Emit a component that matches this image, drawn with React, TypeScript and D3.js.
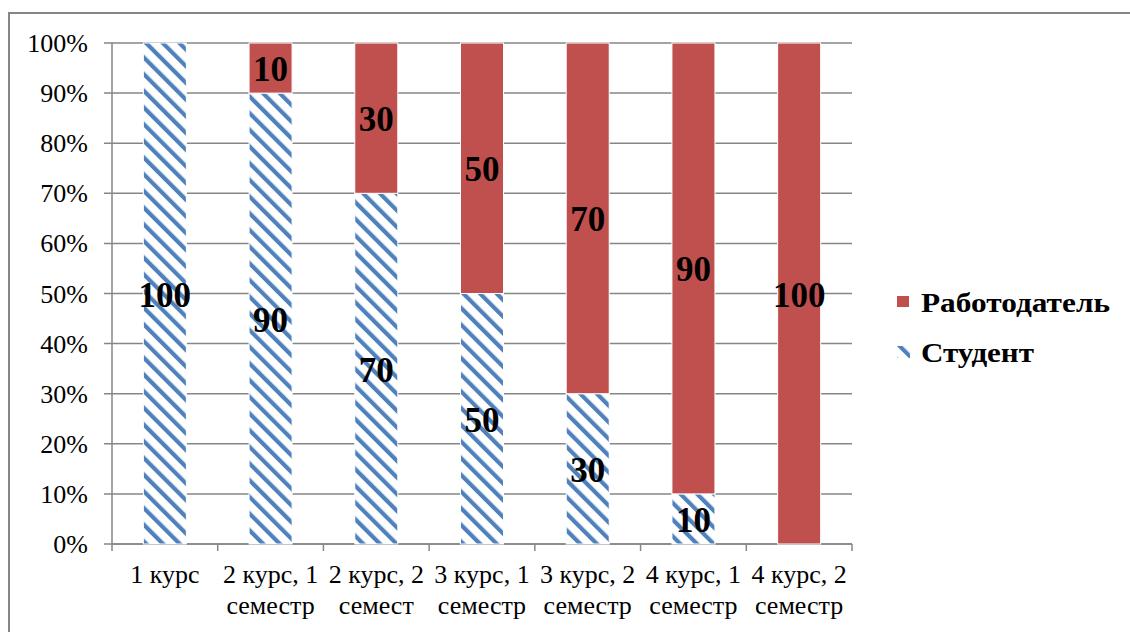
import React from "react";
import * as d3 from "d3";

// Share of responsibility per study stage (percent)
const categories = [
  "1 курс",
  "2 курс, 1\nсеместр",
  "2 курс, 2\nсемест",
  "3 курс, 1\nсеместр",
  "3 курс, 2\nсеместр",
  "4 курс, 1\nсеместр",
  "4 курс, 2\nсеместр",
];
const studentValues = [100, 90, 70, 50, 30, 10, 0];
const employerValues = [0, 10, 30, 50, 70, 90, 100];
const yTicks = [0, 10, 20, 30, 40, 50, 60, 70, 80, 90, 100];
const seriesNames = ["Работодатель", "Студент"];

const W = 1130;
const H = 632;
const plot = { left: 112, right: 852, top: 43, bottom: 544 };
const FONT = "Liberation Serif, Times New Roman, Times, serif";
const RED = "#C0504D";
const BLUE = "#4F81BD";
const GRID = "#868686";

export default function App() {
  const x = d3
    .scaleBand<string>()
    .domain(categories)
    .range([plot.left, plot.right])
    .paddingInner(0.593)
    .paddingOuter(0.593 / 2);
  const y = d3.scaleLinear().domain([0, 100]).range([plot.bottom, plot.top]);
  const step = x.step();
  const bw = x.bandwidth();

  const boundaries = d3.range(categories.length + 1).map((i) => plot.left + i * step);

  return (
    <svg
      width={W}
      height={H}
      style={{ position: "absolute", left: 0, top: 0, background: "#fff", fontFamily: FONT }}
    >
      <defs>
        <pattern
          id="hatch"
          patternUnits="userSpaceOnUse"
          width={11.8}
          height={11.8}
          patternTransform="rotate(-45)"
        >
          <rect width={11.8} height={11.8} fill="#fff" />
          <rect x={0} y={0} width={4.2} height={11.8} fill={BLUE} />
        </pattern>
      </defs>

      {/* chart frame */}
      <rect x={9} y={13} width={W} height={H} fill="#fff" stroke={GRID} strokeWidth={2} />

      {/* gridlines */}
      {yTicks.map((t) => (
        <line
          key={"g" + t}
          x1={plot.left - 8}
          x2={plot.right}
          y1={y(t)}
          y2={y(t)}
          stroke={GRID}
          strokeWidth={1.5}
        />
      ))}

      {/* axes */}
      <line x1={plot.left} x2={plot.left} y1={plot.top} y2={plot.bottom} stroke={GRID} strokeWidth={1.5} />
      <line x1={plot.left} x2={plot.right} y1={plot.bottom} y2={plot.bottom} stroke={GRID} strokeWidth={1.5} />
      {boundaries.map((bx, i) => (
        <line
          key={"t" + i}
          x1={bx}
          x2={bx}
          y1={plot.bottom}
          y2={plot.bottom + 7}
          stroke={GRID}
          strokeWidth={1.5}
        />
      ))}

      {/* y tick labels */}
      {yTicks.map((t) => (
        <text
          key={"yl" + t}
          x={88}
          y={y(t) + 9}
          textAnchor="end"
          fontSize={26}
          fill="#000"
        >
          {t}%
        </text>
      ))}

      {/* bars */}
      {categories.map((c, i) => {
        const s = studentValues[i];
        const e = employerValues[i];
        const x0 = x(c)!;
        return (
          <g key={"b" + i}>
            {s > 0 && (
              <rect
                x={x0}
                y={y(s)}
                width={bw}
                height={y(0) - y(s)}
                fill="url(#hatch)"
                stroke="#fff"
                strokeWidth={1}
              />
            )}
            {e > 0 && (
              <rect
                x={x0}
                y={y(s + e)}
                width={bw}
                height={y(s) - y(s + e)}
                fill={RED}
                stroke="#fff"
                strokeWidth={1}
              />
            )}
          </g>
        );
      })}

      {/* data labels */}
      {categories.map((c, i) => {
        const s = studentValues[i];
        const e = employerValues[i];
        const cx = x(c)! + bw / 2;
        return (
          <g key={"dl" + i} fontWeight="bold" fontSize={35} textAnchor="middle" fill="#000">
            {s > 0 && (
              <text x={cx} y={y(s / 2) + 13}>
                {s}
              </text>
            )}
            {e > 0 && (
              <text x={cx} y={y(s + e / 2) + 13}>
                {e}
              </text>
            )}
          </g>
        );
      })}

      {/* category labels */}
      {categories.map((c, i) => {
        const cx = x(c)! + bw / 2;
        return c.split("\n").map((line, j) => (
          <text
            key={"cl" + i + "-" + j}
            x={cx}
            y={583 + j * 31}
            textAnchor="middle"
            fontSize={26}
            fill="#000"
          >
            {line}
          </text>
        ));
      })}

      {/* legend */}
      <rect x={897} y={296} width={12} height={11} fill={RED} />
      <text
        x={921}
        y={312}
        fontSize={28}
        fontWeight="bold"
        fill="#000"
        textLength={189}
        lengthAdjust="spacingAndGlyphs"
      >
        {seriesNames[0]}
      </text>
      <rect x={897} y={346} width={13} height={12} fill="url(#hatch)" />
      <text
        x={921}
        y={362}
        fontSize={28}
        fontWeight="bold"
        fill="#000"
        textLength={113}
        lengthAdjust="spacingAndGlyphs"
      >
        {seriesNames[1]}
      </text>
    </svg>
  );
}
